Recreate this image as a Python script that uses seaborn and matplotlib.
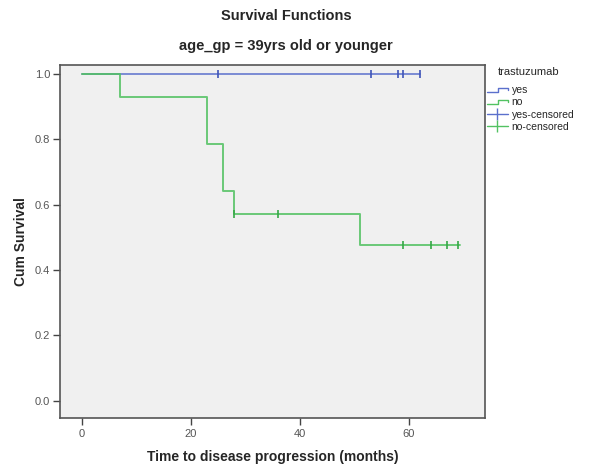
import matplotlib
matplotlib.use("Agg")
import matplotlib.pyplot as plt
import seaborn as sns
import pandas as pd
from matplotlib.lines import Line2D
from matplotlib.legend_handler import HandlerBase

# ---- data ----
yes_times = [0, 62]
yes_surv = [1.0, 1.0]
no_times = [0, 7, 23, 26, 28, 51, 69.5]
no_surv = [1.0, 0.929, 0.786, 0.643, 0.571, 0.476, 0.476]
yes_cens_times = [25, 53, 58, 59, 62]
yes_cens_surv = [1.0, 1.0, 1.0, 1.0, 1.0]
no_cens_times = [28, 36, 59, 64, 67, 69]
no_cens_surv = [0.571, 0.571, 0.476, 0.476, 0.476, 0.476]
legend_labels = ["yes", "no", "yes-censored", "no-censored"]
x_ticks = [0, 20, 40, 60]
y_ticks = [0.0, 0.2, 0.4, 0.6, 0.8, 1.0]

BLUE = "#5b70cc"
BLUE_D = "#3f55b8"
GREEN = "#52c262"
GREEN_D = "#35a846"

sns.set_style("white")
plt.rcParams["font.family"] = ["Liberation Sans", "DejaVu Sans"]

fig = plt.figure(figsize=(5.89, 4.67), dpi=100)
ax = fig.add_axes([60 / 589, 1 - 418 / 467, (485 - 60) / 589, (418 - 65) / 467])
ax.set_facecolor("#f0f0f0")

df_yes = pd.DataFrame({"t": yes_times, "s": yes_surv})
df_no = pd.DataFrame({"t": no_times, "s": no_surv})
sns.lineplot(data=df_yes, x="t", y="s", ax=ax, color=BLUE, lw=1.3,
             drawstyle="steps-post", estimator=None, sort=False, alpha=0.85)
sns.lineplot(data=df_no, x="t", y="s", ax=ax, color=GREEN, lw=1.4,
             drawstyle="steps-post", estimator=None, sort=False, alpha=0.85)

df_yc = pd.DataFrame({"t": yes_cens_times, "s": yes_cens_surv})
df_nc = pd.DataFrame({"t": no_cens_times, "s": no_cens_surv})
sns.scatterplot(data=df_yc, x="t", y="s", ax=ax, marker="|", s=40,
                color=BLUE_D, linewidth=1.2, zorder=5)
sns.scatterplot(data=df_nc, x="t", y="s", ax=ax, marker="|", s=40,
                color=GREEN_D, linewidth=1.2, zorder=5)

ax.set_xlim(-4, 74)
ax.set_ylim(-0.053, 1.028)
ax.set_xticks(x_ticks)
ax.set_xticklabels([str(v) for v in x_ticks])
ax.set_yticks(y_ticks)
ax.set_yticklabels([f"{v:.1f}" for v in y_ticks])
ax.tick_params(axis="both", direction="out", length=5, width=1, color="#444444",
               labelsize=8, labelcolor="#555555", pad=2)
ax.tick_params(axis="x", bottom=True, pad=3)
ax.tick_params(axis="y", left=True)
for sp in ax.spines.values():
    sp.set_color("#555555")
    sp.set_linewidth(1.2)

ax.set_xlabel("Time to disease progression (months)", fontsize=10,
              fontweight="bold", labelpad=8)
ax.set_ylabel("Cum Survival", fontsize=10, fontweight="bold", labelpad=5)

fig.text(286 / 589, 1 - 16 / 467, "Survival Functions", ha="center", va="center",
         fontsize=10.5, fontweight="bold")
fig.text(286 / 589, 1 - 46 / 467, "age_gp = 39yrs old or younger", ha="center",
         va="center", fontsize=10.5, fontweight="bold")
fig.text(498 / 589, 1 - 72 / 467, "trastuzumab", ha="left", va="center",
         fontsize=8)


class StepHandler(HandlerBase):
    def create_artists(self, legend, orig_handle, xdescent, ydescent, width,
                       height, fontsize, trans):
        y0 = -ydescent + height * 0.15
        y1 = -ydescent + height * 0.75
        x0 = -xdescent
        xs = [x0, x0 + width * 0.55, x0 + width * 0.55, x0 + width, x0 + width]
        ys = [y0, y0, y1, y1, y1 - height * 0.3]
        ln = Line2D(xs, ys, color=orig_handle.get_color(), lw=1.0,
                    transform=trans)
        return [ln]


handles = [
    Line2D([], [], color=BLUE),
    Line2D([], [], color=GREEN),
    Line2D([0], [0], color=BLUE, marker="|", markersize=8, lw=1.0),
    Line2D([0], [0], color=GREEN, marker="|", markersize=8, lw=1.0),
]
leg = fig.legend(handles, legend_labels, loc="upper left",
                 bbox_to_anchor=(487 / 589, 1 - 85 / 467), frameon=False,
                 fontsize=7.5, handlelength=2.0, handletextpad=0.35,
                 labelspacing=0.22, borderaxespad=0, borderpad=0,
                 handler_map={handles[0]: StepHandler(),
                              handles[1]: StepHandler()})

fig.savefig("out.png", dpi=100)
